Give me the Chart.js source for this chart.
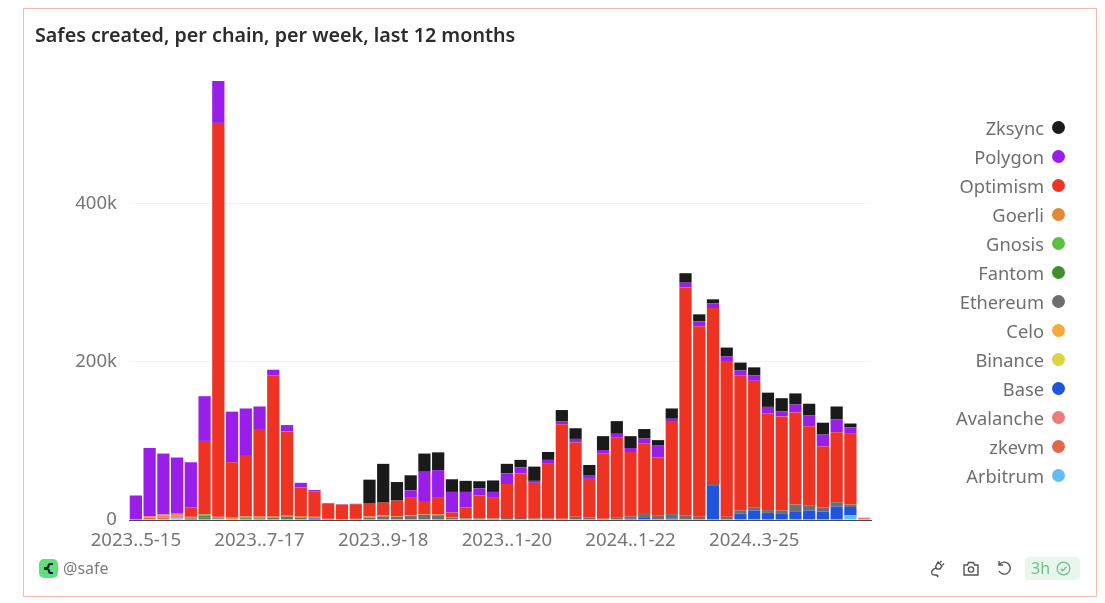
<!DOCTYPE html>
<html><head><meta charset="utf-8">
<script src="https://cdn.jsdelivr.net/npm/chart.js@4"></script>
<style>
html,body{margin:0;padding:0;background:#fff;width:1105px;height:603px;overflow:hidden;font-family:"Noto Sans",sans-serif}
#frame{position:absolute;left:23px;top:8px;width:1072px;height:587px;border:1.5px solid #f3b9ab;box-sizing:content-box}
#wrap{position:absolute;left:0;top:0;width:1105px;height:603px}
#title{position:absolute;left:35px;top:21px;font-size:19.7px;line-height:27px;font-weight:600;color:#2c2c2c;white-space:nowrap}
#legend{position:absolute;right:40px;top:112.5px;margin:0;padding:0;list-style:none}
#legend li{height:29px;line-height:29px;display:flex;justify-content:flex-end;align-items:center;font-size:18.3px;color:#6f6f6f}
#legend i{display:block;width:13px;height:13px;border-radius:50%;margin-left:8px}
#handle{position:absolute;left:63px;top:558px;font-size:16px;line-height:20px;color:#7d7d7d}
#badge{position:absolute;left:1025px;top:557px;width:55px;height:23px;border-radius:4px;background:#e8f7ec;color:#74bd8c;font-size:16px;line-height:23px}
#badge span{position:absolute;left:6px}
svg{position:absolute}
</style></head><body>
<div id="frame"></div>
<div id="wrap"><canvas id="c" width="1105" height="603"></canvas></div>
<div id="title">Safes created, per chain, per week, last 12 months</div>
<ul id="legend"></ul>
<svg style="left:39px;top:559px" width="19" height="19" viewBox="0 0 19 19"><rect width="19" height="19" rx="5" fill="#5fe07f"/><path d="M5 9h2.5a2 2 0 0 0 2-2 2 2 0 0 1 2-2H14M5 10h3a2 2 0 0 1 2 2 2 2 0 0 0 2 2h2" fill="none" stroke="#123" stroke-width="2.2"/></svg>
<div id="handle">@safe</div>
<svg style="left:929px;top:560px" width="16" height="18" viewBox="0 0 16 18" fill="none" stroke="#555" stroke-width="1.4"><path d="M9 2l4 4-2 3H8L6.5 7zM11 2.5 12.5 1M13.5 5 15 3.5M7 8c-4 1-5 4-4 6 1 2 5 0 6 2l-1 1"/></svg>
<svg style="left:963px;top:561px" width="16" height="15" viewBox="0 0 16 15" fill="none" stroke="#555" stroke-width="1.4"><path d="M1 4h3.5l1-2.5h5l1 2.5H15v10H1z"/><circle cx="8" cy="8.5" r="2.6"/></svg>
<svg style="left:996px;top:560px" width="16" height="16" viewBox="0 0 16 16" fill="none" stroke="#555" stroke-width="1.4"><path d="M3.5 4.5A6 6 0 1 1 3 11M3 1v4h4"/></svg>
<div id="badge"><span>3h</span><svg style="left:31px;top:4px" width="15" height="15" viewBox="0 0 15 15" fill="none" stroke="#74bd8c" stroke-width="1.3"><circle cx="7.5" cy="7.5" r="6.3"/><path d="M4.5 7.7l2.1 2.1 3.9-4"/></svg></div>
<script>
const categories = [
"2023-05-15","2023-05-22","2023-05-29","2023-06-05","2023-06-12","2023-06-19","2023-06-26","2023-07-03","2023-07-10",
"2023-07-17","2023-07-24","2023-07-31","2023-08-07","2023-08-14","2023-08-21","2023-08-28","2023-09-04","2023-09-11",
"2023-09-18","2023-09-25","2023-10-02","2023-10-09","2023-10-16","2023-10-23","2023-10-30","2023-11-06","2023-11-13",
"2023-11-20","2023-11-27","2023-12-04","2023-12-11","2023-12-18","2023-12-25","2024-01-01","2024-01-08","2024-01-15",
"2024-01-22","2024-01-29","2024-02-05","2024-02-12","2024-02-19","2024-02-26","2024-03-04","2024-03-11","2024-03-18",
"2024-03-25","2024-04-01","2024-04-08","2024-04-15","2024-04-22","2024-04-29","2024-05-06","2024-05-13","2024-05-20"];
const tickCategories = ["2023-05-15","2023-07-17","2023-09-18","2023-11-20","2024-01-22","2024-03-25"];
const tickNames = ["2023..5-15","2023..7-17","2023..9-18","2023..1-20","2024..1-22","2024..3-25"];
const yTicks = [0,200000,400000];
const yNames = ["0","200k","400k"];

// thousands of Safes, per week
const zksync   = [0,0,0,0,0,0,0,0,0,0,0,0,0,0,0,0,0,29.5,49,23.5,19,23,22.5,16,14,9,14.5,12,9.5,18,10,14,13.5,13.5,17.5,16,15,12,7,13,12,9,5,11,10,10,18,16.5,14,14.5,15,16,5,0];
const polygon  = [31,86,77,71,57,56.5,53,64,60,28.5,7,8,6,2,0.5,0.5,0.5,0,0,0,8.5,37,35,26,19.5,9,7.5,13.5,7.5,2.5,4,4,4.5,4,4.5,5,5,6,15,4,6,6,6,6,6,7,8,6.5,10,14,15,16.5,8,0];
const optimism = [0,0,0,0,12,93,498,70,76.5,110.5,178,106.5,36,32,19.5,18.5,18.5,17,16,19.5,23,16.5,21,6.5,13.5,28.5,25.5,43,56.5,45,70,119.5,94,49,82.5,101,81.5,88,73,116.5,288,241,222.5,197,171,160.5,122.5,119,116.5,100.5,77,88.5,89.5,0];
const goerli   = [0,0,1,2,1,0,1,2,1.5,1.5,2,1,2,1,0,0,0,1.5,1.5,1,1,1,1,0.5,0.5,0.5,0.5,0,0,0,0,0,0,0,0,0,0,0,0,0,0,0,0,0,0,0,0,0,0,0,0,0,0,0];
const gnosis   = [0,0,0,0,0,1.5,0,0,0,0,0,0,0,0,0,0,0,0,0,0,0,0,0,0,0,0,0,0,0,0,0,0,0,0,0,0,0,0,0,0,0,0,0,0,0,0,0,0,0,0,0,0,0,0];
const fantom   = [0,0,0,0,1,2.5,0,0,1.5,1,0,0.5,0,0,0,0,0,0,0,0,0,0,0,0,0,0,0,0,0,0,0,0,0,0,0,0,0,0,0,0,0,0,0,0,0,0,0,0,0,0,0,0,0,0];
const ethereum = [0,0,0,0,1.5,3,1.5,0,1.5,2,3,4,3,1,1.5,1,1.5,3,4.5,4,5,6.5,6,2.5,2,2,2,2.5,2.5,2,2,1.5,4,3,1.5,3,3,6.5,5,5.5,5,4,1.5,4,4,3.5,3.5,3.5,8.5,6,5.5,5.5,3,0];
const celo     = [0,0,0,0,0,0,0,0,0,0,0,0,0,0,0,0,0,0,0,0,0,0,0,0,0,0,0,0,0,0,0,0,0,0,0,0,0,0,0,0,0,0,0,0,0,0,0,0,0,0,0,0,0,0];
const binance  = [0,0,0,0,0,0,0,0,0,0,0,0,0,0,0,0,0,0,0,0,0,0,0,0,0,0,0,0,0,0,0,0,0,0,0,0,0,0,0,0,0,0,0,0,0,0,0,0,0,0,0,0,0,0];
const base     = [0,0,0,0,0,0,0,0,0,0,0,0,0,1.5,0,0,0,0,0,0,0,0,0,0,0,0,0,0,0,0,0,0,0,0,0,0,1.5,2.5,1,2,1,0,44,0,8,12,9,8.5,11,12,10.5,17,10.5,0];
const avalanche= [0,2,3,3,0,0,0,0,0,0,0,0,0,0,0,0,0,0,0,0,0,0,0,0,0,0,0,0,0,0,0,0,0,0,0,0,0,0,0,0,0,0,0,0,0,0,0,0,0,0,0,0,0,2];
const zkevm    = [0,3,2,1,0.5,0,0,1,0,0,0,0,0,0,0,0,0,0,0,0,0,0,0,0,0,0,0,0,0,0,0,0,0,0,0,0,0,0,0,0,0,0,0,0,0,0,0,0,0,0,0,0,0,1];
const arbitrum = [0,0,1,2,0,0,1.5,0,0,0,0,0,0,0.5,0,0,0,0,0,0,0,0,0,0,0,0,0,0,0,0,0,0,0,0,0,0,0,0,0,0,0,0,0,0,0,0,0,0,0,0,0,0,6,0];

const legendOrder = [
  ["Zksync",zksync,"#1a1a1a"],["Polygon",polygon,"#9a1eea"],["Optimism",optimism,"#ee3323"],
  ["Goerli",goerli,"#e08a35"],["Gnosis",gnosis,"#5dbf40"],["Fantom",fantom,"#3f8f2e"],
  ["Ethereum",ethereum,"#6e6e6e"],["Celo",celo,"#f5ab3a"],["Binance",binance,"#dcd340"],
  ["Base",base,"#1f55dc"],["Avalanche",avalanche,"#ef7a78"],["zkevm",zkevm,"#e0694a"],["Arbitrum",arbitrum,"#62bcf5"]];

const legend = document.getElementById("legend");
legendOrder.forEach(([name,,color])=>{
  const li=document.createElement("li");
  li.textContent=name;
  const dot=document.createElement("i");
  dot.style.background=color;
  li.appendChild(dot);
  legend.appendChild(li);
});

const FONT='"Noto Sans", sans-serif';
new Chart(document.getElementById("c"),{
  type:"bar",
  data:{labels:categories,datasets:legendOrder.slice().reverse().map(([label,vals,color])=>({
    label,data:vals.map(v=>v*1000),backgroundColor:color,borderWidth:0,
    barPercentage:1,categoryPercentage:0.89,stack:"s"}))},
  options:{
    responsive:false,animation:false,devicePixelRatio:1,
    layout:{padding:{top:81,right:234,left:0,bottom:0}},
    plugins:{legend:{display:false},title:{display:false},tooltip:{enabled:false}},
    scales:{
      x:{stacked:true,offset:true,
        afterFit(s){s.height=83;},
        grid:{display:false,drawTicks:false},
        border:{display:true,color:"#4a4a4a",width:1},
        ticks:{autoSkip:false,maxRotation:0,minRotation:0,padding:10,color:"#767676",font:{family:FONT,size:18.6},
          callback(v){const i=tickCategories.indexOf(this.getLabelForValue(v));return i<0?"":tickNames[i];}}},
      y:{stacked:true,min:0,max:555000,
        afterFit(s){s.width=129;},
        afterBuildTicks(s){s.ticks=yTicks.map(value=>({value}));},
        grid:{color:"#f2f2f2",lineWidth:1,drawTicks:false},
        border:{display:false},
        ticks:{padding:12,color:"#767676",font:{family:FONT,size:18.6},
          callback(v){return yNames[yTicks.indexOf(v)];}}}
    }
  }
});
</script>
</body></html>
